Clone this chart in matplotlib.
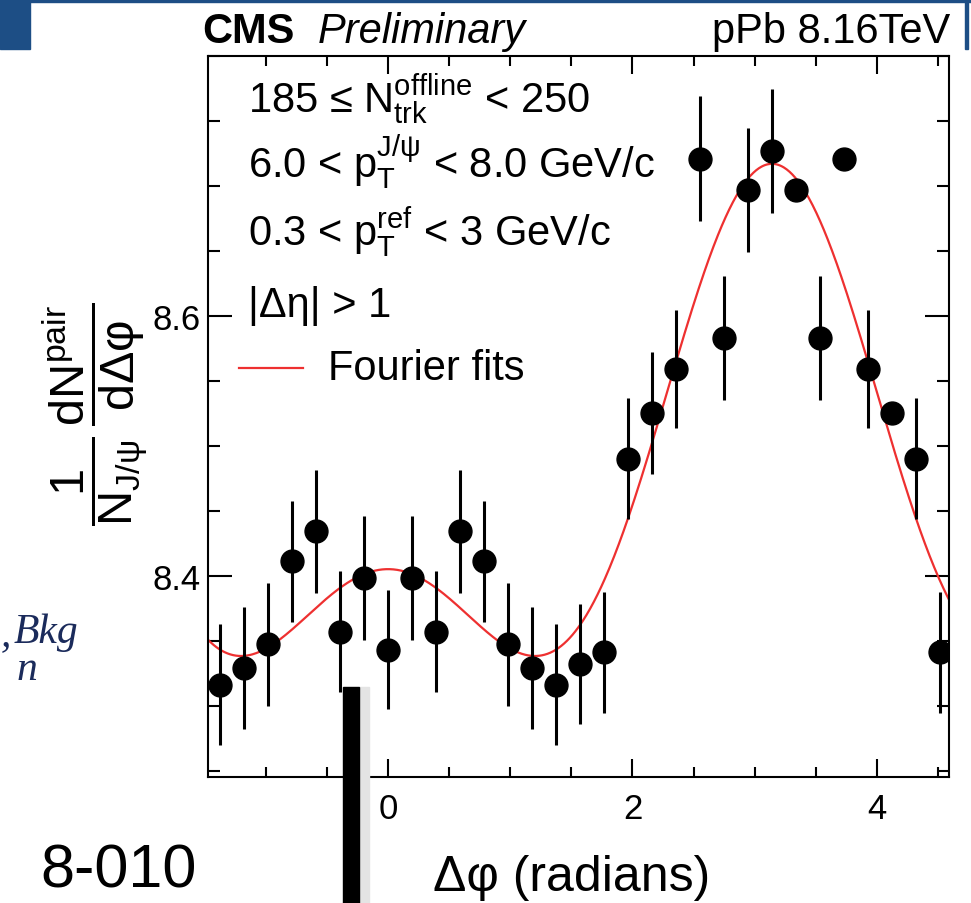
import numpy as np
import matplotlib
matplotlib.use('Agg')
import matplotlib.pyplot as plt
from matplotlib.patches import Rectangle

plt.rcParams['font.family'] = ['Liberation Sans', 'DejaVu Sans']
plt.rcParams['mathtext.fontset'] = 'custom'
plt.rcParams['mathtext.rm'] = 'Liberation Sans'
plt.rcParams['mathtext.it'] = 'Liberation Sans'
plt.rcParams['mathtext.bf'] = 'Liberation Sans:bold'
plt.rcParams['mathtext.sf'] = 'Liberation Sans'

# ---------------- data ----------------
bin_index = np.arange(-7, 24)            # bins of width pi/16
dphi = bin_index * np.pi / 16
yields = [8.316, 8.329, 8.347, 8.411, 8.434, 8.357, 8.398, 8.343,
          8.398, 8.357, 8.434, 8.411, 8.347, 8.329, 8.316, 8.332,
          8.341, 8.490, 8.525, 8.559, 8.721, 8.583, 8.697, 8.727,
          8.697, 8.583, 8.721, 8.559, 8.525, 8.490, 8.341]
errors = [0.0467, 0.0467, 0.0477, 0.0467, 0.0476, 0.0469, 0.0477, 0.0458,
          0.0477, 0.0469, 0.0476, 0.0467, 0.0477, 0.0467, 0.0467, 0.0460,
          0.0467, 0.0464, 0.0468, 0.0457, 0.0480, 0.0476, 0.0476, 0.0476,
          0.0, 0.0476, 0.0, 0.0457, 0.0, 0.0464, 0.0467]
fit_coeffs = [8.4615, -0.1508, 0.0995, -0.0052]   # c0 + sum c_n cos(n dphi)

xticks_major = [0, 2, 4]
yticks_major = [8.4, 8.6]

# ---------------- figure ----------------
W, H = 971, 904
fig = plt.figure(figsize=(W / 100, H / 100), dpi=100)
L, R, T, B = 208, 949, 57, 778
ax = fig.add_axes([L / W, 1 - B / H, (R - L) / W, (B - T) / H])
xmin, xmax = -1.473, 4.59
ax.set_xlim(xmin, xmax)
ax.set_ylim(8.245, 8.799)

red = '#ee3030'
phi = np.linspace(xmin, xmax, 800)
fit = sum(c * np.cos(n * phi) for n, c in enumerate(fit_coeffs))
ax.plot(phi, fit, color=red, lw=1.6, zorder=2)
ax.errorbar(dphi, yields, yerr=errors, fmt='o', color='black', ms=16.5,
            elinewidth=2.2, capsize=0, zorder=3)

ax.set_xticks(xticks_major)
ax.set_xticks(np.arange(-1.0, 4.6, 0.5), minor=True)
ax.set_yticks(yticks_major)
ax.set_yticks(np.arange(8.25, 8.8, 0.05), minor=True)
ax.tick_params(which='both', direction='in', top=True, right=True, width=1.5)
ax.tick_params(axis='y', which='major', length=17, labelsize=25, pad=5)
ax.tick_params(axis='y', which='minor', length=8.5)
ax.tick_params(axis='x', which='major', length=13, labelsize=25, pad=11)
ax.tick_params(axis='x', which='minor', length=7)
for s in ax.spines.values():
    s.set_linewidth(1.5)

# ---------------- overlay (pixel coordinates) ----------------
deco = fig.add_axes([0, 0, 1, 1], zorder=10)
deco.set_xlim(0, W)
deco.set_ylim(H, 0)
deco.axis('off')
deco.patch.set_alpha(0)

blue = '#1d4e85'
deco.add_patch(Rectangle((0, 0), 30, 50, color=blue))
deco.add_patch(Rectangle((0, 0), W, 3, color=blue))
deco.add_patch(Rectangle((965, 0), 3, 50, color=blue))

deco.text(202, 43, 'CMS', fontsize=30, weight='bold', va='baseline')
deco.text(318, 43, 'Preliminary', fontsize=30, style='italic', va='baseline')
deco.text(950, 43, 'pPb 8.16TeV', fontsize=30, ha='right', va='baseline')

fs = 30
deco.text(248, 112, r'185 ≤ $\mathrm{N}_{\mathrm{trk}}^{\mathrm{offline}}$ < 250',
          fontsize=fs, va='baseline')
deco.text(248, 178, r'6.0 < $\mathrm{p}_{\mathrm{T}}^{\mathrm{J/ψ}}$ < 8.0 GeV/c',
          fontsize=fs, va='baseline')
deco.text(248, 245, r'0.3 < $\mathrm{p}_{\mathrm{T}}^{\mathrm{ref}}$ < 3 GeV/c',
          fontsize=fs, va='baseline')
deco.text(248, 317, '|Δη| > 1', fontsize=fs, va='baseline')
deco.plot([239, 303], [369, 369], color=red, lw=1.6)
deco.text(328, 380, 'Fourier fits', fontsize=fs, va='baseline')

deco.text(95, 414,
          r'$\dfrac{1}{\mathrm{N}_{\mathrm{J/ψ}}}\,\dfrac{\mathrm{dN}^{\mathrm{pair}}}{\mathrm{dΔφ}}$',
          fontsize=35, rotation=90, ha='center', va='center')
deco.text(433, 891, 'Δφ (radians)', fontsize=36, va='baseline')

navy = '#1b2b5b'
deco.text(1, 645, ',', fontsize=30, family='Liberation Serif', style='italic',
          color=navy, va='baseline')
deco.text(14, 643, 'Bkg', fontsize=30, family='Liberation Serif', style='italic',
          color=navy, va='baseline')
deco.text(17, 680, 'n', fontsize=30, family='Liberation Serif', style='italic',
          color=navy, va='baseline')
deco.text(40, 888, '8-010', fontsize=44, va='baseline')

deco.add_patch(Rectangle((359, 688), 10, 216, color='#e4e4e4'))
deco.add_patch(Rectangle((343, 688), 16, 216, color='black'))

fig.savefig('out.png', dpi=100)
